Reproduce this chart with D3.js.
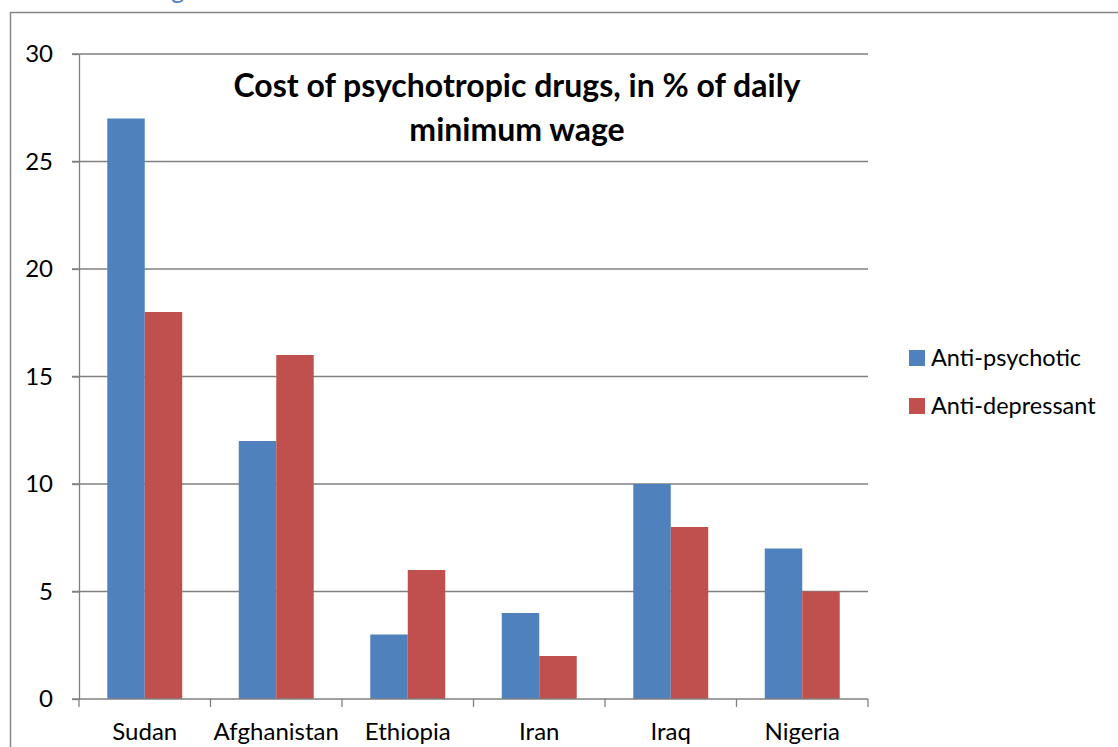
<!DOCTYPE html>
<html>
<head>
<meta charset="utf-8">
<script src="https://cdn.jsdelivr.net/npm/d3@7"></script>
<style>
  body { margin: 0; background: #fff; }
  text { font-family: Lato, "Open Sans", sans-serif; }
</style>
</head>
<body>
<div id="chart"></div>
<script>
// data
const countries = ["Sudan", "Afghanistan", "Ethiopia", "Iran", "Iraq", "Nigeria"];
const series = ["Anti-psychotic", "Anti-depressant"];
const antiPsychotic = [27, 12, 3, 4, 10, 7];
const antiDepressant = [18, 16, 6, 2, 8, 5];
const yTicks = [0, 5, 10, 15, 20, 25, 30];
const colors = ["#4F81BD", "#C0504D"];

const values = [antiPsychotic, antiDepressant];
const data = countries.map((c, i) => ({ country: c, vals: values.map(v => v[i]) }));

const W = 1118, H = 747;
const margin = {top: 54, right: 250, bottom: 48, left: 79};
const width = W - margin.left - margin.right,
      height = H - margin.top - margin.bottom;

const svg = d3.select("#chart")
  .append("svg")
    .attr("width", W)
    .attr("height", H);

// cut-off heading above the frame
svg.append("text")
  .attr("x", 171).attr("y", -2)
  .style("font-size", "26px")
  .attr("fill", "#4F81BD")
  .text("g");

// chart frame
svg.append("rect")
  .attr("x", 10.5).attr("y", 12.5)
  .attr("width", 1200).attr("height", 800)
  .attr("fill", "none")
  .attr("stroke", "#868686")
  .attr("stroke-width", 1.5);

const g = svg.append("g")
  .attr("transform", `translate(${margin.left},${margin.top})`);

const x = d3.scaleBand()
  .domain(countries)
  .range([0, width])
  .paddingInner(0.43)
  .paddingOuter(0.215);

const xs = d3.scaleBand()
  .domain(series)
  .range([0, x.bandwidth()]);

const y = d3.scaleLinear()
  .domain([0, 30])
  .range([height, 0]);

// gridlines
g.append("g")
  .selectAll("line")
  .data(yTicks.filter(d => d > 0))
  .join("line")
    .attr("x1", -7).attr("x2", width)
    .attr("y1", d => y(d)).attr("y2", d => y(d))
    .attr("stroke", "#808080")
    .attr("stroke-width", 1.3);

// bars
g.append("g")
  .selectAll("g")
  .data(data)
  .join("g")
    .attr("transform", d => `translate(${x(d.country)},0)`)
  .selectAll("rect")
  .data(d => d.vals.map((v, i) => ({ s: series[i], v, i })))
  .join("rect")
    .attr("x", d => xs(d.s))
    .attr("y", d => y(d.v))
    .attr("width", xs.bandwidth())
    .attr("height", d => height - y(d.v))
    .attr("fill", d => colors[d.i]);

// y axis
const yAxis = g.append("g")
  .call(d3.axisLeft(y).tickValues(yTicks).tickSize(7).tickSizeOuter(0).tickPadding(19));
yAxis.select(".domain").attr("stroke", "#808080").attr("stroke-width", 1.3);
yAxis.selectAll(".tick line").attr("stroke", "#808080").attr("stroke-width", 1.3);
yAxis.selectAll(".tick text")
  .style("font-size", "24px")
  .style("font-family", "Lato, sans-serif")
  .attr("fill", "#000");

// x axis with ticks at category boundaries
const xAxis = g.append("g")
  .attr("transform", `translate(0,${height})`);
xAxis.append("line")
  .attr("x1", -7).attr("x2", width)
  .attr("stroke", "#808080").attr("stroke-width", 1.3);
xAxis.selectAll(".sep")
  .data(d3.range(countries.length + 1))
  .join("line")
    .attr("class", "sep")
    .attr("x1", i => i * x.step()).attr("x2", i => i * x.step())
    .attr("y1", 0).attr("y2", 8)
    .attr("stroke", "#808080").attr("stroke-width", 1.3);
xAxis.selectAll(".lbl")
  .data(countries)
  .join("text")
    .attr("class", "lbl")
    .attr("x", d => x(d) + x.bandwidth() / 2)
    .attr("y", 41)
    .attr("text-anchor", "middle")
    .style("font-size", "24px")
    .text(d => d);

// title
const title = svg.append("text")
  .attr("x", 517)
  .attr("text-anchor", "middle")
  .style("font-size", "32px")
  .style("font-weight", "bold");
title.append("tspan").attr("x", 517).attr("y", 97).text("Cost of psychotropic drugs, in % of daily");
title.append("tspan").attr("x", 517).attr("y", 141).text("minimum wage");

// legend
const legend = svg.append("g")
  .attr("transform", "translate(909,350)");
const items = legend.selectAll("g")
  .data(series)
  .join("g")
    .attr("transform", (d, i) => `translate(0,${i * 48})`);
items.append("rect")
  .attr("width", 16).attr("height", 16)
  .attr("fill", (d, i) => colors[i]);
items.append("text")
  .attr("x", 22).attr("y", 16)
  .style("font-size", "23.5px")
  .text(d => d);
</script>
</body>
</html>
